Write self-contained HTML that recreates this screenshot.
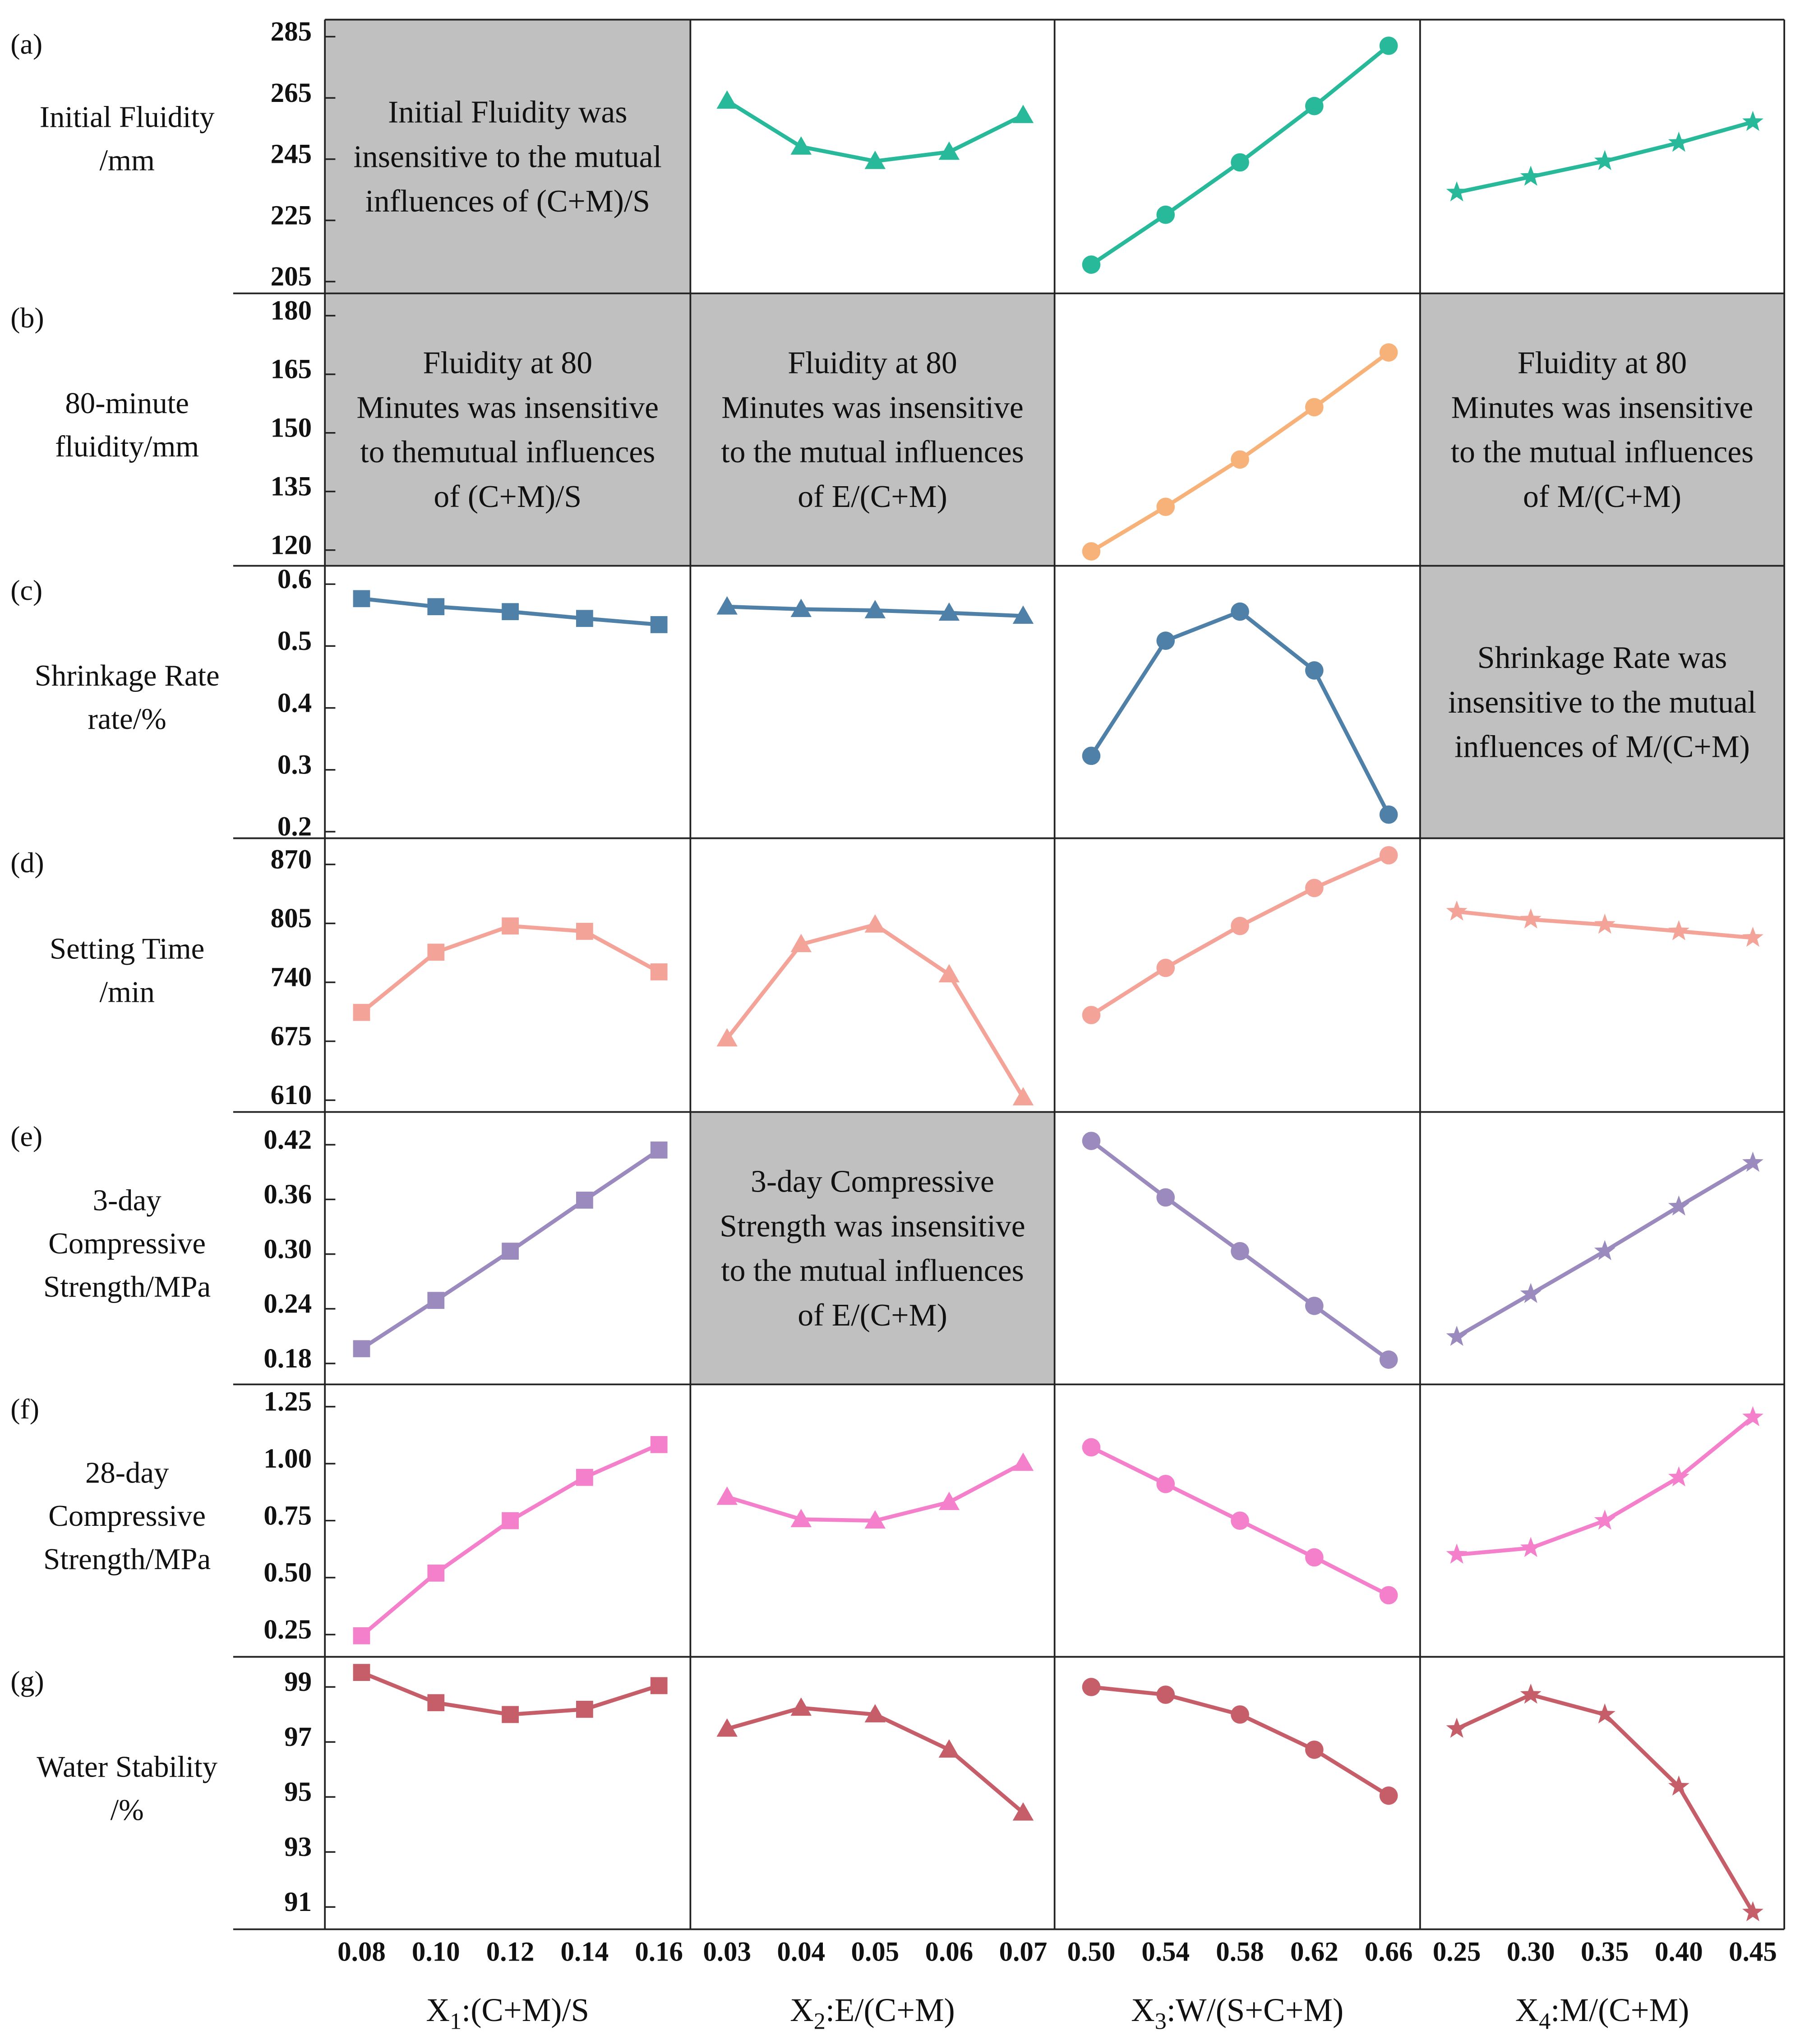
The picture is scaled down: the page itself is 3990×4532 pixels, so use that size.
<!DOCTYPE html>
<html><head><meta charset="utf-8">
<style>
html,body{margin:0;padding:0;background:#fff;}
svg{display:block;}
svg text{font-family:"Liberation Serif","DejaVu Serif",serif;fill:#111;}
</style></head>
<body>
<svg id="chart" width="3990" height="4532" viewBox="0 0 1374 1560.6" preserveAspectRatio="none" xmlns="http://www.w3.org/2000/svg" font-family="Liberation Serif, DejaVu Serif, serif"></svg>
<script>
// ---- data ----
const xTickLabels = [
  ["0.08","0.10","0.12","0.14","0.16"],
  ["0.03","0.04","0.05","0.06","0.07"],
  ["0.50","0.54","0.58","0.62","0.66"],
  ["0.25","0.30","0.35","0.40","0.45"]
];
const rowLetters = ["(a)","(b)","(c)","(d)","(e)","(f)","(g)"];
const rowTitles = [["Initial Fluidity","/mm"],["80-minute","fluidity/mm"],["Shrinkage Rate","rate/%"],["Setting Time","/min"],["3-day","Compressive","Strength/MPa"],["28-day","Compressive","Strength/MPa"],["Water Stability","/%"]];
const yTicks = [
  ["285","265","245","225","205"],
  ["180","165","150","135","120"],
  ["0.6","0.5","0.4","0.3","0.2"],
  ["870","805","740","675","610"],
  ["0.42","0.36","0.30","0.24","0.18"],
  ["1.25","1.00","0.75","0.50","0.25"],
  ["99","97","95","93","91"]
];
const yMin = [205,120,0.2,610,0.18,0.25,91];
const yMax = [285,180,0.6,870,0.42,1.25,99];
const rowColors = ["#27b99a","#f7b27a","#4f80a8","#f3a397","#9a8abd","#f47fca","#c65e69"];
const seriesA = [null,[261.9,246.9,242.2,245.2,257.2],[208.4,224.7,241.8,260.2,279.9],[232,237.1,242.2,248.2,255]];
const seriesB = [null,null,[118,129.4,141.5,154.9,168.9],null];
const seriesC = [[0.566,0.553,0.545,0.534,0.524],[0.553,0.549,0.547,0.543,0.538],[0.312,0.498,0.545,0.45,0.217],null];
const seriesD = [[699.6,766,794.9,789,744.3],[670.7,774.7,796.3,741.4,605.7],[696.7,748.7,794.9,836.8,872.9],[810.8,802.1,796.3,789.1,781.9]];
const seriesE = [[0.189,0.242,0.296,0.352,0.407],null,[0.417,0.355,0.296,0.236,0.177],[0.202,0.249,0.296,0.345,0.393]];
const seriesF = [[0.216,0.491,0.721,0.911,1.055],[0.825,0.727,0.721,0.802,0.974],[1.043,0.882,0.721,0.56,0.394],[0.572,0.601,0.721,0.911,1.175]];
const seriesG = [[99.29,98.19,97.76,97.95,98.81],[97.24,98.0,97.76,96.48,94.19],[98.76,98.48,97.76,96.48,94.81],[97.24,98.48,97.76,95.14,90.57]];
const allSeries = [seriesA,seriesB,seriesC,seriesD,seriesE,seriesF,seriesG];
const grayTexts = {
  "0-0":["Initial Fluidity was","insensitive to the mutual","influences of (C+M)/S"],
  "1-0":["Fluidity at 80","Minutes was insensitive","to themutual influences","of (C+M)/S"],
  "1-1":["Fluidity at 80","Minutes was insensitive","to the mutual influences","of E/(C+M)"],
  "1-3":["Fluidity at 80","Minutes was insensitive","to the mutual influences","of M/(C+M)"],
  "2-3":["Shrinkage Rate was","insensitive to the mutual","influences of M/(C+M)"],
  "4-1":["3-day Compressive","Strength was insensitive","to the mutual influences","of E/(C+M)"]
};
const markerShapes = ["square","triangle","circle","star"];

// ---- layout ----
const colX = [248,527,805,1084,1362];
const rowY = [15,224,432,640,849,1057,1265,1473];
const tickTop = [23,236,441,655,869,1069,1283];
const tickBot = [210,415,630,835,1036,1243,1451];
const svg = document.getElementById('chart');
const NS = "http://www.w3.org/2000/svg";
const FF = '"Liberation Serif","DejaVu Serif",serif';
function el(tag, attrs, parent){const e=document.createElementNS(NS,tag);for(const k in attrs)e.setAttribute(k,attrs[k]);if(tag==='text')e.style.fontFamily=FF;(parent||svg).appendChild(e);return e;}
function xScale(c,i){const x0=colX[c]+28, x1=colX[c+1]-24;return x0+(x1-x0)*i/4;}
function yScale(r,v){return tickBot[r]-(v-yMin[r])/(yMax[r]-yMin[r])*(tickBot[r]-tickTop[r]);}

for(const key in grayTexts){
  const [r,c]=key.split('-').map(Number);
  const g=el('g',{});
  
  
  el('rect',{x:colX[c],y:rowY[r],width:colX[c+1]-colX[c],height:rowY[r+1]-rowY[r],fill:'#c0c0c0'},g);
  const lines=grayTexts[key];const cy=(rowY[r]+rowY[r+1])/2;const lh=34;
  lines.forEach((t,i)=>{const tx=el('text',{x:(colX[c]+colX[c+1])/2,y:cy+(i-(lines.length-1)/2)*lh+8,'text-anchor':'middle','font-size':24},g);tx.textContent=t;});
}

for(let r=0;r<rowY.length;r++){
  const l=el('line',{x1:r===0?248:178,x2:1362,y1:rowY[r],y2:rowY[r],stroke:'#222','stroke-width':1.3});
  
  
}
for(let c=0;c<colX.length;c++){
  const l=el('line',{x1:colX[c],x2:colX[c],y1:15,y2:1473,stroke:'#222','stroke-width':1.3});
  
  
}

for(let r=0;r<7;r++){
  const lt=el('text',{x:8,y:rowY[r]+26,'font-size':22});
  
  
  lt.textContent=rowLetters[r];
  const title=rowTitles[r];const cy=(rowY[r]+rowY[r+1])/2 - (r===0?10:0);
  title.forEach((t,i)=>{const tx=el('text',{x:97,y:cy+(i-(title.length-1)/2)*33+4,'text-anchor':'middle','font-size':23});
    
    
    tx.textContent=t;});
  yTicks[r].forEach((t,i)=>{
    const y=tickTop[r]+(tickBot[r]-tickTop[r])*i/4;
    const tk=el('line',{x1:248,x2:256,y1:y+5,y2:y+5,stroke:'#222','stroke-width':1.2});
    
    
    const tx=el('text',{x:238,y:y+8,'text-anchor':'end','font-size':21,'font-weight':'bold'});
    
    
    tx.textContent=t;
  });
  for(let c=0;c<4;c++){
    const vals=allSeries[r][c];if(!vals)continue;
    const g=el('g',{});
    
    
    const pts=vals.map((v,i)=>[xScale(c,i),yScale(r,v)]);
    el('polyline',{points:pts.map(p=>p.join(',')).join(' '),fill:'none',stroke:rowColors[r],'stroke-width':3},g);
    pts.forEach(([x,y])=>{
      const s=markerShapes[c];let m;
      if(s==='square')m=el('rect',{x:x-6.5,y:y-6.5,width:13,height:13,fill:rowColors[r]},g);
      else if(s==='triangle')m=el('polygon',{points:`${x},${y-8} ${x+8},${y+6} ${x-8},${y+6}`,fill:rowColors[r]},g);
      else if(s==='circle')m=el('circle',{cx:x,cy:y,r:7,fill:rowColors[r]},g);
      else{let p=[];for(let k=0;k<10;k++){const a=-Math.PI/2+k*Math.PI/5;const rr=k%2?3.5:8.5;p.push((x+rr*Math.cos(a))+','+(y+rr*Math.sin(a)));}m=el('polygon',{points:p.join(' '),fill:rowColors[r]},g);}
      
      
    });
  }
}

const xTitles=[["X","1",":(C+M)/S"],["X","2",":E/(C+M)"],["X","3",":W/(S+C+M)"],["X","4",":M/(C+M)"]];
for(let c=0;c<4;c++){
  xTickLabels[c].forEach((t,i)=>{
    const tx=el('text',{x:xScale(c,i),y:1497,'text-anchor':'middle','font-size':21,'font-weight':'bold'});
    
    
    tx.textContent=t;
  });
  const tt=el('text',{x:(colX[c]+colX[c+1])/2,y:1543,'text-anchor':'middle','font-size':25});
  
  
  const [a,b,d]=xTitles[c];
  const s1=el('tspan',{},tt);s1.textContent=a;
  const s2=el('tspan',{dy:6,'font-size':18},tt);s2.textContent=b;
  const s3=el('tspan',{dy:-6},tt);s3.textContent=d;
}
</script>
</body></html>
